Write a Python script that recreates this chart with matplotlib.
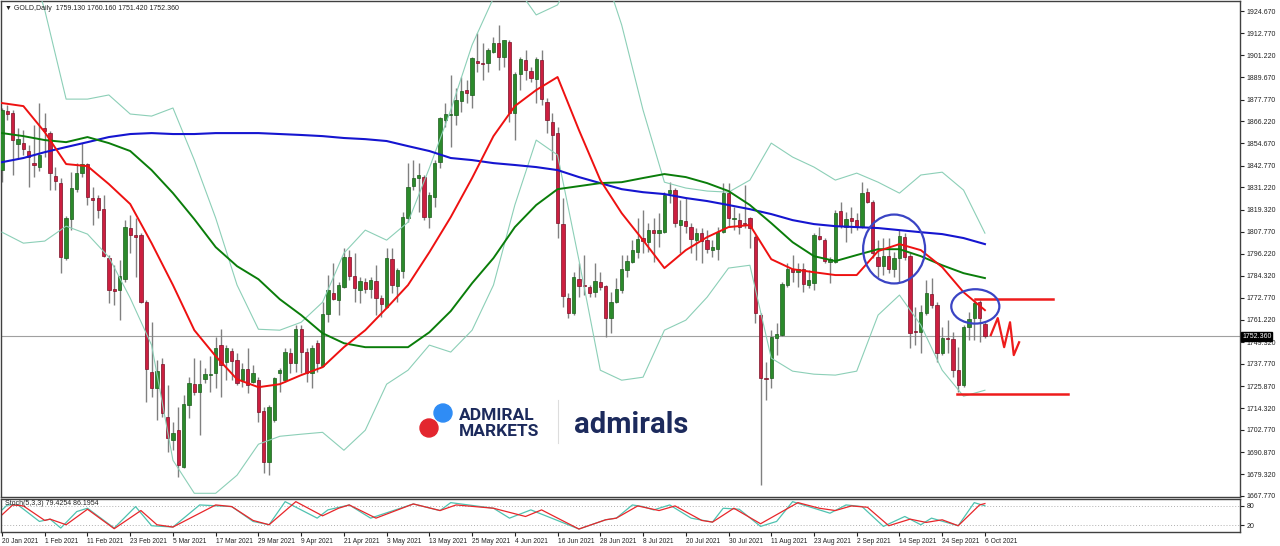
#!/usr/bin/env python3

import matplotlib
matplotlib.use("Agg")
import matplotlib.pyplot as plt
from matplotlib.patches import Ellipse
from matplotlib.lines import Line2D
from matplotlib.transforms import blended_transform_factory
import numpy as np

# Daily OHLC bars, 20 Jan 2021 .. 6 Oct 2021
opens = [
    1840.4, 1871.7, 1870.6, 1854.2, 1854.7, 1850.5, 1844.1, 1842.0, 1862.7, 1860.0,
    1837.2, 1833.5, 1793.8, 1814.4, 1830.3, 1838.8, 1843.6, 1825.6, 1825.6, 1819.7,
    1793.8, 1777.3, 1776.8, 1782.6, 1809.7, 1806.0, 1806.0, 1770.4, 1733.3, 1724.9,
    1737.6, 1709.5, 1697.3, 1702.6, 1683.0, 1715.9, 1727.0, 1722.7, 1729.6, 1731.8,
    1732.8, 1747.7, 1738.6, 1744.5, 1739.7, 1729.1, 1734.9, 1728.0, 1729.1, 1712.7,
    1685.6, 1707.9, 1732.8, 1729.1, 1743.4, 1738.1, 1756.1, 1744.0, 1732.8, 1748.7,
    1736.5, 1764.1, 1775.2, 1771.5, 1778.4, 1794.3, 1784.2, 1776.8, 1781.0, 1777.3,
    1781.6, 1772.6, 1767.8, 1793.2, 1778.9, 1786.9, 1815.0, 1831.9, 1836.2, 1836.7,
    1815.5, 1826.1, 1844.6, 1866.9, 1869.6, 1869.6, 1877.0, 1882.8, 1880.2, 1898.2,
    1897.1, 1897.1, 1902.9, 1907.7, 1900.3, 1908.2, 1870.6, 1891.3, 1898.7, 1892.9,
    1888.6, 1898.7, 1876.4, 1865.8, 1860.0, 1811.8, 1772.6, 1764.6, 1782.6, 1779.5,
    1778.4, 1775.7, 1781.0, 1778.9, 1762.0, 1770.4, 1776.8, 1787.4, 1791.6, 1796.9,
    1804.4, 1802.2, 1808.6, 1807.0, 1807.5, 1828.2, 1829.8, 1811.3, 1813.4, 1810.2,
    1803.3, 1807.0, 1803.3, 1798.0, 1798.5, 1807.5, 1828.2, 1814.4, 1813.9, 1812.3,
    1815.0, 1804.9, 1763.6, 1730.2, 1730.2, 1751.4, 1753.0, 1779.5, 1787.9, 1786.3,
    1787.9, 1779.5, 1780.5, 1805.4, 1803.3, 1791.6, 1791.6, 1818.7, 1810.2, 1815.0,
    1813.9, 1810.2, 1828.7, 1823.4, 1794.3, 1789.5, 1794.8, 1787.9, 1793.8, 1804.9,
    1794.8, 1755.1, 1754.5, 1764.6, 1774.7, 1768.9, 1743.4, 1751.4, 1750.8, 1734.4,
    1726.5, 1757.2, 1762.0, 1770.4, 1759.13,
]
highs = [
    1873.3, 1874.9, 1872.2, 1862.7, 1861.6, 1853.7, 1864.3, 1875.9, 1870.6, 1861.1,
    1842.0, 1836.2, 1816.0, 1839.3, 1844.1, 1854.7, 1844.1, 1831.4, 1827.2, 1827.2,
    1795.4, 1790.0, 1792.7, 1813.9, 1816.5, 1815.0, 1807.0, 1771.5, 1759.8, 1739.7,
    1740.8, 1726.4, 1706.8, 1714.8, 1721.2, 1730.7, 1740.8, 1739.7, 1735.5, 1741.8,
    1751.9, 1756.1, 1747.7, 1746.1, 1743.4, 1738.1, 1746.1, 1737.1, 1730.7, 1714.8,
    1715.9, 1730.7, 1735.5, 1746.1, 1746.1, 1758.3, 1758.3, 1746.1, 1747.7, 1750.3,
    1770.4, 1784.8, 1791.1, 1781.0, 1799.1, 1798.0, 1796.4, 1783.7, 1783.2, 1783.7,
    1790.0, 1774.2, 1799.1, 1799.1, 1788.5, 1818.1, 1844.1, 1845.7, 1844.1, 1837.8,
    1828.7, 1845.7, 1868.5, 1875.9, 1890.8, 1883.9, 1889.7, 1888.1, 1900.3, 1913.0,
    1907.7, 1905.1, 1910.9, 1917.3, 1909.3, 1909.3, 1892.3, 1900.3, 1904.0, 1895.0,
    1900.3, 1904.0, 1878.6, 1870.6, 1863.2, 1825.6, 1775.2, 1786.3, 1791.1, 1795.4,
    1779.5, 1791.1, 1786.3, 1779.5, 1775.7, 1783.2, 1795.4, 1795.4, 1803.3, 1815.0,
    1819.2, 1812.3, 1815.0, 1817.6, 1828.7, 1834.0, 1830.9, 1824.5, 1825.6, 1812.3,
    1809.7, 1809.7, 1808.6, 1803.3, 1810.2, 1833.5, 1833.5, 1820.8, 1817.6, 1832.5,
    1815.5, 1806.0, 1764.6, 1738.6, 1755.6, 1759.3, 1781.0, 1791.1, 1795.4, 1791.1,
    1791.1, 1787.4, 1807.0, 1810.2, 1804.4, 1794.3, 1819.2, 1823.4, 1818.1, 1820.8,
    1817.6, 1834.0, 1830.9, 1824.5, 1803.3, 1804.4, 1804.4, 1796.9, 1808.6, 1807.0,
    1796.4, 1767.8, 1768.9, 1782.1, 1783.2, 1770.4, 1757.2, 1760.9, 1754.5, 1746.6,
    1758.3, 1765.1, 1771.5, 1771.5, 1760.16,
]
lows = [
    1834.0, 1866.9, 1837.8, 1846.8, 1848.4, 1831.4, 1836.7, 1839.9, 1847.3, 1829.8,
    1829.8, 1785.8, 1792.7, 1808.6, 1828.7, 1836.7, 1821.9, 1811.3, 1815.0, 1794.3,
    1769.9, 1768.9, 1760.9, 1781.0, 1796.4, 1783.7, 1769.9, 1717.4, 1720.1, 1707.9,
    1709.5, 1690.9, 1692.0, 1677.7, 1682.5, 1709.0, 1721.2, 1700.0, 1727.5, 1722.7,
    1724.9, 1720.1, 1729.1, 1729.1, 1726.5, 1725.4, 1722.2, 1727.5, 1706.8, 1679.8,
    1678.8, 1706.8, 1722.7, 1728.0, 1732.8, 1733.3, 1732.8, 1728.0, 1724.9, 1733.3,
    1736.0, 1759.8, 1771.5, 1763.6, 1777.9, 1782.1, 1770.4, 1769.9, 1775.2, 1772.6,
    1763.6, 1762.5, 1767.3, 1775.2, 1770.4, 1783.2, 1812.8, 1829.8, 1818.1, 1813.9,
    1809.7, 1820.8, 1841.5, 1863.2, 1852.6, 1864.3, 1871.1, 1875.9, 1873.3, 1892.3,
    1888.1, 1892.3, 1902.4, 1893.4, 1895.0, 1865.8, 1856.3, 1882.8, 1888.1, 1887.0,
    1875.9, 1874.9, 1860.0, 1845.7, 1804.4, 1767.8, 1762.0, 1763.6, 1773.1, 1774.2,
    1773.1, 1773.1, 1776.8, 1751.9, 1754.0, 1769.9, 1775.2, 1783.7, 1791.1, 1793.8,
    1796.4, 1796.9, 1791.6, 1799.6, 1807.0, 1822.9, 1810.2, 1796.4, 1807.0, 1796.4,
    1792.7, 1791.1, 1796.4, 1794.3, 1792.7, 1807.0, 1810.2, 1808.6, 1806.5, 1809.7,
    1799.1, 1759.3, 1673.5, 1718.5, 1724.9, 1742.4, 1752.4, 1778.4, 1781.0, 1778.4,
    1775.7, 1777.9, 1776.8, 1803.3, 1791.1, 1780.5, 1791.1, 1809.7, 1802.2, 1807.0,
    1808.6, 1809.7, 1822.9, 1793.8, 1783.7, 1784.8, 1785.8, 1783.7, 1781.0, 1792.7,
    1746.1, 1747.7, 1743.4, 1763.6, 1767.3, 1738.6, 1742.4, 1743.4, 1730.7, 1722.7,
    1725.4, 1750.3, 1750.3, 1749.2, 1751.42,
]
closes = [
    1872.2, 1870.1, 1856.3, 1856.8, 1851.5, 1847.3, 1843.1, 1848.4, 1861.1, 1838.8,
    1834.6, 1794.3, 1815.0, 1830.9, 1838.8, 1843.6, 1826.1, 1824.5, 1819.2, 1794.8,
    1776.8, 1776.3, 1784.2, 1810.2, 1806.0, 1804.9, 1770.4, 1734.9, 1724.9, 1733.9,
    1711.6, 1698.4, 1701.0, 1684.0, 1716.4, 1727.5, 1722.7, 1727.0, 1732.3, 1732.3,
    1746.1, 1737.1, 1746.1, 1739.2, 1727.5, 1734.9, 1726.5, 1732.8, 1712.1, 1685.6,
    1714.8, 1730.2, 1734.4, 1744.0, 1738.1, 1756.1, 1744.0, 1732.8, 1746.1, 1738.1,
    1764.1, 1776.8, 1772.0, 1779.5, 1794.3, 1784.2, 1777.9, 1781.6, 1777.3, 1782.1,
    1772.6, 1769.4, 1793.8, 1779.5, 1787.4, 1815.5, 1831.4, 1836.2, 1837.8, 1815.5,
    1827.2, 1844.1, 1868.0, 1870.1, 1870.1, 1877.5, 1882.3, 1881.2, 1899.8, 1897.1,
    1896.6, 1904.0, 1907.7, 1900.3, 1909.3, 1870.6, 1891.3, 1899.2, 1893.4, 1889.2,
    1899.2, 1878.0, 1866.9, 1859.0, 1812.3, 1773.6, 1764.6, 1783.7, 1778.9, 1778.9,
    1775.2, 1781.6, 1778.4, 1762.0, 1770.4, 1777.3, 1787.9, 1792.2, 1798.0, 1803.8,
    1802.8, 1808.6, 1807.0, 1808.6, 1827.2, 1829.8, 1812.3, 1813.9, 1810.7, 1803.8,
    1807.0, 1802.8, 1798.5, 1799.6, 1807.5, 1828.2, 1815.0, 1815.0, 1810.2, 1811.8,
    1809.7, 1764.6, 1730.2, 1729.6, 1751.9, 1753.5, 1780.0, 1787.9, 1786.3, 1787.9,
    1780.0, 1782.1, 1806.0, 1803.8, 1792.2, 1793.2, 1817.6, 1810.7, 1814.4, 1813.4,
    1810.2, 1828.2, 1823.4, 1796.4, 1789.5, 1794.8, 1787.9, 1793.8, 1805.4, 1794.3,
    1754.0, 1754.5, 1765.1, 1775.2, 1768.9, 1743.4, 1751.4, 1750.8, 1734.4, 1726.5,
    1757.2, 1761.4, 1769.9, 1762.0, 1752.36,
]

# Indicator lines, read every 4th bar
line_idx = list(range(0, 185, 4))
ma_red = [
    1875.9, 1874.3, 1860.5, 1843.6, 1842.5, 1833.0, 1822.4, 1801.7, 1779.5, 1755.6,
    1741.8, 1729.6, 1725.4, 1727.0, 1731.8, 1736.0, 1746.6, 1755.6, 1767.3, 1779.5,
    1796.9, 1815.5, 1836.2, 1858.4, 1874.3, 1882.8, 1889.7, 1861.6, 1835.1, 1817.6,
    1803.3, 1788.5, 1798.0, 1804.9, 1810.2, 1811.3, 1793.2, 1787.9, 1786.3, 1784.8,
    1784.8, 1797.5, 1801.2, 1798.0, 1789.0, 1775.7, 1766.2,
]
ma_green = [
    1860.0, 1858.4, 1856.3, 1855.2, 1857.9, 1854.7, 1850.5, 1840.4, 1828.2, 1814.4,
    1799.6, 1789.5, 1782.6, 1772.0, 1763.6, 1754.0, 1748.7, 1746.6, 1746.6, 1746.6,
    1754.5, 1765.7, 1780.5, 1793.8, 1810.2, 1821.9, 1830.3, 1831.9, 1833.5, 1834.0,
    1836.2, 1838.3, 1836.7, 1833.5, 1829.3, 1821.9, 1812.3, 1802.2, 1794.8, 1792.2,
    1795.4, 1798.5, 1798.5, 1794.8, 1790.0, 1785.8, 1783.2,
]
ma_blue = [
    1844.6, 1846.8, 1849.9, 1852.6, 1855.2, 1857.9, 1859.5, 1860.0, 1859.5, 1859.5,
    1860.0, 1860.0, 1860.0, 1859.5, 1859.0, 1858.4, 1857.4, 1856.8, 1855.8, 1853.1,
    1850.5, 1846.8, 1845.7, 1844.1, 1843.1, 1842.0, 1840.4, 1836.7, 1833.5, 1830.3,
    1828.7, 1827.7, 1825.6, 1824.0, 1821.9, 1819.7, 1817.1, 1813.9, 1811.8, 1810.7,
    1810.2, 1809.7, 1808.6, 1807.5, 1806.5, 1804.4, 1801.2,
]
bb_upper = [
    1972.9, 1962.3, 1925.2, 1878.0, 1878.0, 1880.2, 1870.1, 1869.0, 1873.3, 1845.7,
    1815.0, 1779.5, 1756.1, 1755.6, 1759.8, 1770.4, 1796.4, 1808.6, 1803.3, 1812.8,
    1841.5, 1872.2, 1906.7, 1931.6, 1938.5, 1922.6, 1927.9, 1951.7, 1951.7, 1917.3,
    1872.2, 1834.0, 1830.9, 1829.3, 1828.7, 1835.1, 1854.7, 1847.3, 1842.0, 1835.1,
    1838.8, 1834.0, 1828.2, 1837.8, 1839.3, 1829.8, 1807.0,
]
bb_lower = [
    1807.5, 1801.7, 1802.8, 1810.7, 1806.5, 1794.3, 1772.6, 1747.7, 1686.7, 1669.2,
    1669.2, 1678.8, 1695.2, 1699.4, 1700.5, 1701.5, 1692.0, 1702.6, 1727.0, 1734.4,
    1747.7, 1744.0, 1755.6, 1779.5, 1821.9, 1856.3, 1848.4, 1792.7, 1734.4, 1729.1,
    1730.7, 1755.6, 1760.9, 1773.1, 1788.5, 1790.0, 1740.8, 1733.9, 1732.3, 1731.8,
    1733.9, 1763.6, 1774.2, 1758.3, 1734.4, 1720.6, 1723.8,
]

# Stochastic (5,3,3)
k_idx = [0, 1, 3, 7, 9, 11, 14, 16, 21, 25, 28, 32, 37, 43, 47, 50, 53, 59, 61, 65,
         69, 77, 82, 84, 92, 95, 99, 108, 113, 115, 118, 120, 122, 125, 129, 133,
         135, 138, 142, 145, 148, 152, 155, 158, 161, 165, 169, 172, 174, 179, 182, 184]
k_val = [67, 82, 82, 32, 39, 12, 62, 72, 12, 77, 19, 15, 82, 77, 32, 22, 92, 42, 67, 82,
         42, 85, 65, 89, 72, 42, 67, 9, 37, 42, 82, 77, 67, 82, 42, 30,
         72, 69, 17, 32, 92, 72, 57, 82, 77, 17, 47, 22, 42, 19, 89, 79.4]
d_idx = [0, 2, 4, 8, 9, 12, 16, 21, 26, 29, 32, 40, 43, 47, 50, 55, 60, 63, 65, 70,
         77, 82, 85, 92, 98, 101, 108, 113, 115, 119, 123, 126, 131, 133, 137, 142,
         149, 153, 156, 159, 162, 166, 170, 173, 176, 179, 183, 184]
d_val = [52, 82, 79, 35, 39, 22, 69, 10, 65, 22, 15, 82, 77, 35, 22, 92, 49, 72, 82, 42,
         85, 65, 82, 72, 47, 67, 9, 37, 42, 79, 65, 79, 35, 30, 72, 25,
         89, 72, 65, 79, 75, 19, 39, 29, 37, 19, 82, 86.2]

date_labels = ['20 Jan 2021', '1 Feb 2021', '11 Feb 2021', '23 Feb 2021', '5 Mar 2021',
               '17 Mar 2021', '29 Mar 2021', '9 Apr 2021', '21 Apr 2021', '3 May 2021',
               '13 May 2021', '25 May 2021', '4 Jun 2021', '16 Jun 2021', '28 Jun 2021',
               '8 Jul 2021', '20 Jul 2021', '30 Jul 2021', '11 Aug 2021', '23 Aug 2021',
               '2 Sep 2021', '14 Sep 2021', '24 Sep 2021', '6 Oct 2021']
price_ticks = [1924.67, 1912.77, 1901.22, 1889.67, 1877.77, 1866.22, 1854.67, 1842.77,
               1831.22, 1819.32, 1807.77, 1796.22, 1784.32, 1772.77, 1761.22, 1749.32,
               1737.77, 1725.87, 1714.32, 1702.77, 1690.87, 1679.32, 1667.77]
last_price = 1752.36

# hand-drawn analysis marks
resist_level = 1772.0
resist_span = [182.1, 196.7]
support_level = 1721.7
support_span = [178.8, 199.6]
zigzag_idx = [185.1, 186.4, 187.6, 188.7, 189.4, 190.4]
zigzag_px = [1753.0, 1762.0, 1746.6, 1759.8, 1742.4, 1749.2]
circle_big = (167.0, 1798.6, 11.6, 36.5)
circle_small = (182.2, 1768.2, 9.0, 18.2)


def main():
    plt.rcParams['font.family'] = ['Liberation Sans', 'DejaVu Sans']
    W, H = 1280, 546
    fig = plt.figure(figsize=(W / 100, H / 100), dpi=100)
    fig.patch.set_facecolor('white')

    ax = fig.add_axes([1 / W, 1 - 497 / H, 1239 / W, 496 / H])
    ax2 = fig.add_axes([1 / W, 1 - 532 / H, 1239 / W, 33 / H])

    o = np.array(opens)
    h = np.array(highs)
    l = np.array(lows)
    c = np.array(closes)
    idx = np.arange(len(o))
    up = c >= o

    # wicks and bodies
    ax.vlines(idx, l, h, color='#808080', lw=1, zorder=2)
    body = np.maximum(np.abs(c - o), 0.3)
    ax.bar(idx[up], body[up], bottom=o[up], width=0.62, color='#2b8a2b',
           edgecolor='#1c5c1c', lw=0.5, zorder=3)
    ax.bar(idx[~up], body[~up], bottom=c[~up], width=0.62, color='#cc1f40',
           edgecolor='#7a1026', lw=0.5, zorder=3)

    # bands and moving averages
    ax.plot(line_idx, bb_upper, color='#8ccfb7', lw=0.8, zorder=4)
    ax.plot(line_idx, bb_lower, color='#8ccfb7', lw=0.8, zorder=4)
    ax.plot(line_idx, ma_blue, color='#1515d0', lw=1.5, zorder=5)
    ax.plot(line_idx, ma_green, color='#0a7d0a', lw=1.4, zorder=5)
    ax.plot(line_idx, ma_red, color='#ee1111', lw=1.4, zorder=5)

    ax.axhline(last_price, color='#a0a0a0', lw=0.8, zorder=1)

    # analysis drawings
    ax.plot(resist_span, [resist_level] * 2, color='#ee1c1c', lw=1.8, zorder=6)
    ax.plot(support_span, [support_level] * 2, color='#ee1c1c', lw=1.8, zorder=6)
    ax.plot(zigzag_idx, zigzag_px, color='#ee1c1c', lw=1.6, zorder=6)
    for cx, cy, w, hh in (circle_big, circle_small):
        ax.add_patch(Ellipse((cx, cy), w, hh, fill=False, edgecolor='#3a44c4',
                             lw=1.6, zorder=6))

    ax.set_xlim(-0.19, 231.75)
    ax.set_ylim(1667.24, 1929.97)
    ax.yaxis.tick_right()
    ax.set_yticks(price_ticks)
    ax.set_yticklabels(['%.3f' % p for p in price_ticks])
    ax.tick_params(axis='y', labelsize=5, length=3, width=0.8, pad=2, colors='#222222')
    ax.tick_params(axis='x', bottom=False, labelbottom=False)

    trans = blended_transform_factory(ax.transAxes, ax.transData)
    ax.text(1.0016, last_price, '1752.360', transform=trans, fontsize=5,
            color='white', va='center', ha='left',
            bbox=dict(boxstyle='square,pad=0.15', fc='black', ec='black'), zorder=10)

    fig.text(5 / W, 1 - 8 / H, '\u25bc GOLD,Daily  1759.130 1760.160 1751.420 1752.360',
             fontsize=5, va='center', ha='left', color='#222222')

    # stochastic panel
    ax2.axhline(80, color='#b0b0b0', lw=0.7, ls=(0, (1, 2)))
    ax2.axhline(20, color='#b0b0b0', lw=0.7, ls=(0, (1, 2)))
    ax2.plot(k_idx, k_val, color='#4fc2b0', lw=0.9)
    ax2.plot(d_idx, d_val, color='#e8262a', lw=0.9)
    ax2.set_xlim(-0.19, 231.75)
    ax2.set_ylim(0, 100)
    ax2.yaxis.tick_right()
    ax2.set_yticks([80, 20])
    ax2.set_yticklabels(['80', '20'])
    ax2.tick_params(axis='y', labelsize=5, length=3, width=0.8, pad=2, colors='#222222')
    ax2.set_xticks(list(range(0, 185, 8)))
    ax2.set_xticklabels(date_labels, ha='left')
    ax2.tick_params(axis='x', labelsize=4.8, length=3, width=0.8, pad=1, colors='#222222')
    ax2.text(0.003, 0.85, 'Stoch(5,3,3) 79.4254 86.1954', transform=ax2.transAxes,
             fontsize=5, va='center', ha='left', color='#222222')

    for a in (ax, ax2):
        for s in a.spines.values():
            s.set_color('#404040')
            s.set_linewidth(1)

    # logo
    navy = '#1c2a5c'
    fig.add_artist(Ellipse((443 / W, 1 - 413 / H), 18 / W, 18 / H,
                           transform=fig.transFigure, color='#2f8cf5'))
    fig.add_artist(Ellipse((429 / W, 1 - 428 / H), 18 / W, 18 / H,
                           transform=fig.transFigure, color='#e3262f'))
    fig.text(459 / W, 1 - 419.5 / H, 'ADMIRAL', fontsize=12.5, family='Roboto',
             weight='bold', color=navy, va='baseline', ha='left')
    fig.text(459 / W, 1 - 435.5 / H, 'MARKETS', fontsize=12.5, family='Roboto',
             weight='bold', color=navy, va='baseline', ha='left')
    fig.add_artist(Line2D([558 / W, 558 / W], [1 - 400 / H, 1 - 443 / H],
                          transform=fig.transFigure, color='#dddddd', lw=0.8))
    fig.text(574 / W, 1 - 433 / H, 'admirals', fontsize=21, family='Roboto',
             weight='bold', color=navy, va='baseline', ha='left')

    fig.savefig('out.png', dpi=100)


if __name__ == "__main__":
    main()
